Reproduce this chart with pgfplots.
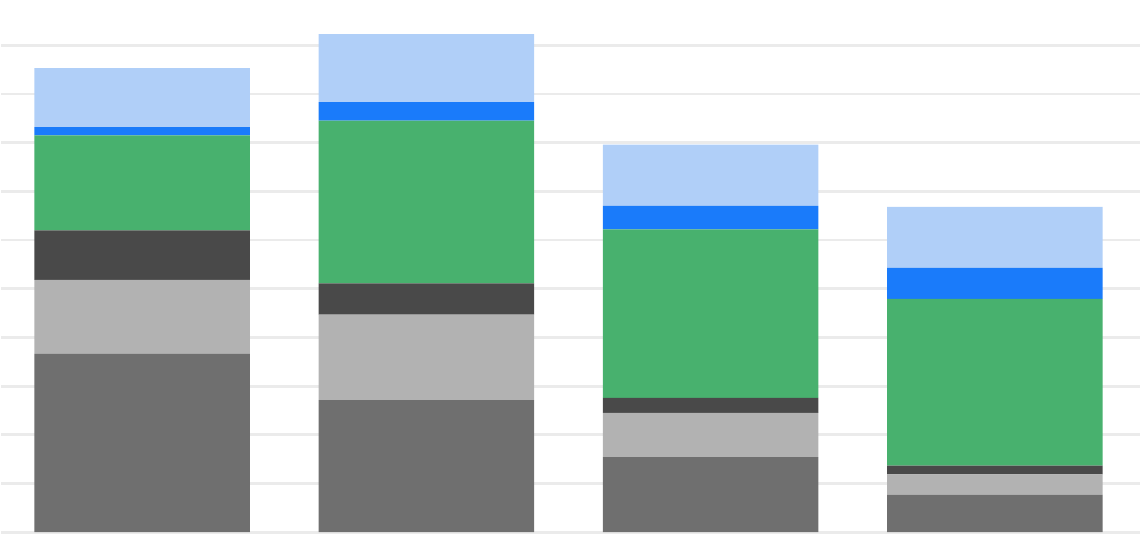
\documentclass[border=0pt]{standalone}
\usepackage{pgfplots}
\pgfplotsset{compat=1.18}
\definecolor{cDG}{HTML}{6F6F6F}
\definecolor{cLG}{HTML}{B2B2B2}
\definecolor{cDK}{HTML}{494949}
\definecolor{cGR}{HTML}{48B16E}
\definecolor{cBL}{HTML}{1A7BFA}
\definecolor{cLB}{HTML}{B0CFF8}
\definecolor{cGrid}{HTML}{EBEBEB}
\begin{document}
\begin{tikzpicture}
\begin{axis}[
  scale only axis,
  width=11.41cm, height=5.35cm,
  xmin=-0.495, xmax=3.509,
  ymin=-0.03, ymax=10.93,
  ybar stacked,
  bar width=0.758,
  xtick=\empty,
  ytick={0,1,...,10},
  yticklabels={},
  ymajorgrids,
  grid style={cGrid, line width=0.8pt},
  major tick length=0pt,
  axis line style={draw=none},
  tick label style={overlay},
  clip=true,
]
\addplot[fill=cDG, draw=none] coordinates {(0,3.66) (1,2.71) (2,1.54) (3,0.77)};
\addplot[fill=cLG, draw=none] coordinates {(0,1.52) (1,1.76) (2,0.91) (3,0.42)};
\addplot[fill=cDK, draw=none] coordinates {(0,1.02) (1,0.64) (2,0.31) (3,0.18)};
\addplot[fill=cGR, draw=none] coordinates {(0,1.95) (1,3.34) (2,3.46) (3,3.42)};
\addplot[fill=cBL, draw=none] coordinates {(0,0.17) (1,0.38) (2,0.48) (3,0.64)};
\addplot[fill=cLB, draw=none] coordinates {(0,1.21) (1,1.40) (2,1.26) (3,1.25)};
\path (rel axis cs:0,0) rectangle (rel axis cs:1,1);
\end{axis}
\end{tikzpicture}
\end{document}
